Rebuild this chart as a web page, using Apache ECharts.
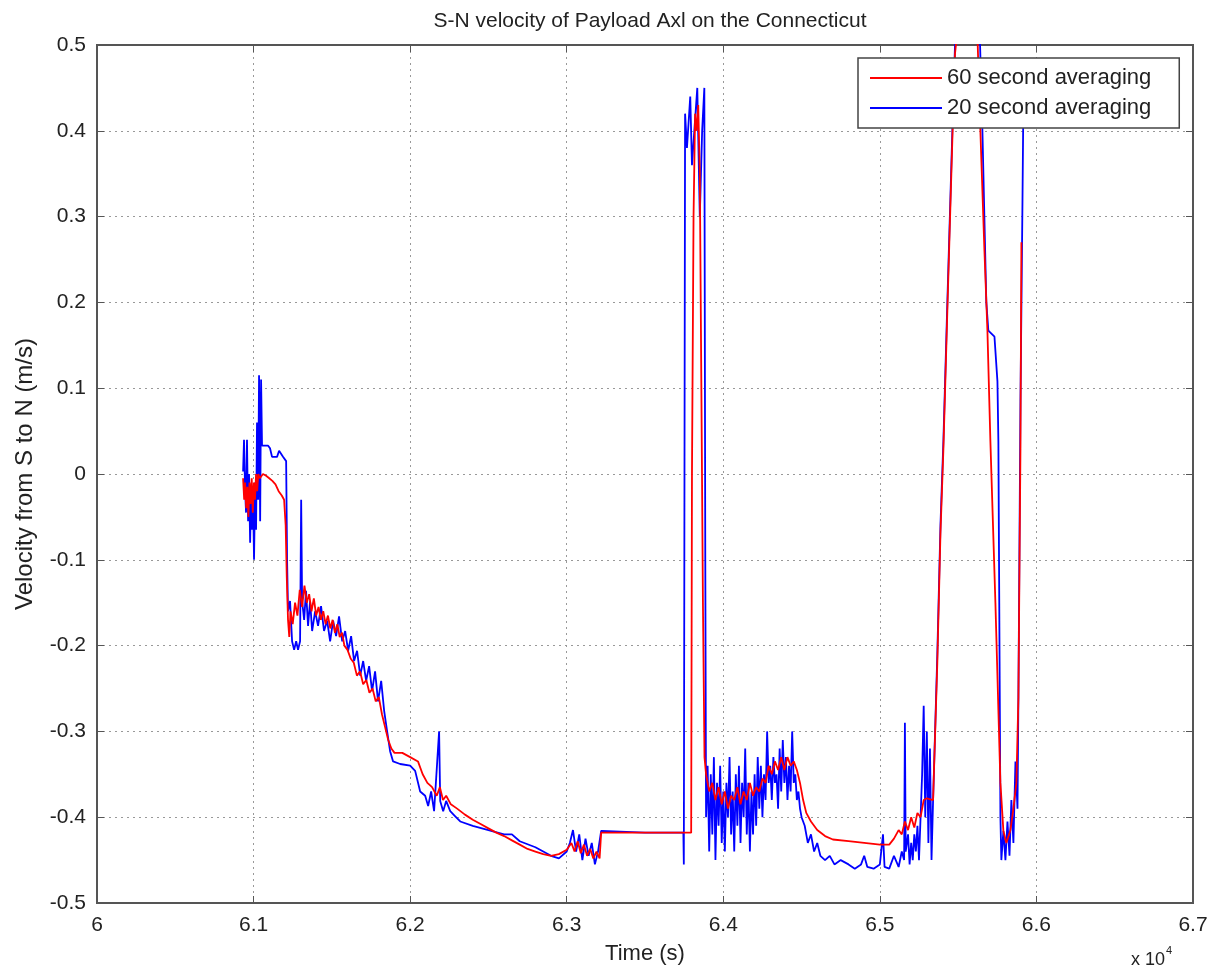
<!DOCTYPE html>
<html>
<head>
<meta charset="utf-8">
<title>S-N velocity</title>
<script src="https://cdn.jsdelivr.net/npm/echarts@6.0.0/dist/echarts.min.js"></script>
<style>
  html, body { margin: 0; padding: 0; background: #fff; }
  #chartmain { width: 1213px; height: 971px; }
</style>
</head>
<body>
<div id="chartmain"></div>
<script type="text/javascript">
// time in units of 10^4 s, velocity in m/s
var seriesNames = ['60 second averaging', '20 second averaging'];
var xTicks = [6, 6.1, 6.2, 6.3, 6.4, 6.5, 6.6, 6.7];
var yTicks = [-0.5, -0.4, -0.3, -0.2, -0.1, 0, 0.1, 0.2, 0.3, 0.4, 0.5];

// 60 second averaging (red)
var red60 = [
  [6.0933,-0.005],[6.0940,-0.03],[6.0946,-0.01],[6.0953,-0.04],[6.0960,-0.015],[6.0967,-0.05],
  [6.0974,-0.01],[6.0981,-0.035],[6.0988,-0.005],[6.0995,-0.045],[6.1002,-0.01],[6.1009,-0.03],
  [6.1016,0.0],[6.1023,-0.02],[6.1030,0.0],[6.1040,-0.005],[6.1060,0.0],[6.1080,-0.002],
  [6.1100,-0.005],[6.1120,-0.008],[6.1140,-0.012],[6.1160,-0.02],[6.1180,-0.025],[6.1195,-0.03],
  [6.1205,-0.06],[6.1212,-0.12],[6.1220,-0.17],[6.1228,-0.19],[6.1236,-0.16],[6.1250,-0.175],
  [6.1265,-0.15],[6.1280,-0.165],[6.1295,-0.135],[6.1310,-0.155],[6.1325,-0.13],[6.1340,-0.15],
  [6.1355,-0.14],[6.1370,-0.16],[6.1385,-0.145],[6.1400,-0.165],[6.1415,-0.155],[6.1430,-0.17],
  [6.1445,-0.16],[6.1460,-0.175],[6.1475,-0.165],[6.1490,-0.18],[6.1505,-0.17],[6.1520,-0.185],
  [6.1535,-0.175],[6.1550,-0.19],[6.1565,-0.185],[6.1580,-0.2],[6.1600,-0.205],[6.1620,-0.215],
  [6.1640,-0.22],[6.1660,-0.235],[6.1680,-0.23],[6.1700,-0.245],[6.1720,-0.24],[6.1740,-0.255],
  [6.1760,-0.25],[6.1780,-0.265],[6.1800,-0.26],[6.1820,-0.28],[6.1840,-0.295],[6.1860,-0.31],
  [6.1880,-0.32],[6.1900,-0.325],[6.1950,-0.325],[6.2000,-0.33],[6.2050,-0.335],[6.2080,-0.35],
  [6.2110,-0.36],[6.2140,-0.365],[6.2170,-0.375],[6.2190,-0.365],[6.2210,-0.38],[6.2230,-0.375],
  [6.2260,-0.385],[6.2300,-0.39],[6.2350,-0.397],[6.2400,-0.403],[6.2450,-0.408],[6.2500,-0.413],
  [6.2550,-0.418],[6.2600,-0.422],[6.2650,-0.427],[6.2700,-0.432],[6.2750,-0.437],[6.2800,-0.44],
  [6.2850,-0.443],[6.2900,-0.445],[6.2950,-0.443],[6.3000,-0.438],[6.3030,-0.43],[6.3050,-0.44],
  [6.3070,-0.428],[6.3090,-0.442],[6.3110,-0.432],[6.3130,-0.445],[6.3150,-0.437],[6.3170,-0.448],
  [6.3190,-0.44],[6.3210,-0.448],[6.3220,-0.418],[6.3500,-0.418],[6.3795,-0.418],[6.3800,0.0],
  [6.3810,0.3],[6.3820,0.42],[6.3830,0.40],[6.3840,0.43],[6.3850,0.35],[6.3860,0.1],
  [6.3870,-0.15],[6.3880,-0.33],[6.3890,-0.35],[6.3910,-0.37],[6.3930,-0.36],[6.3950,-0.38],
  [6.3970,-0.365],[6.3990,-0.385],[6.4010,-0.37],[6.4030,-0.39],[6.4050,-0.375],[6.4070,-0.38],
  [6.4090,-0.365],[6.4110,-0.385],[6.4130,-0.37],[6.4150,-0.38],[6.4170,-0.36],[6.4190,-0.375],
  [6.4210,-0.365],[6.4230,-0.37],[6.4250,-0.355],[6.4270,-0.36],[6.4290,-0.34],[6.4310,-0.35],
  [6.4330,-0.335],[6.4350,-0.345],[6.4370,-0.33],[6.4390,-0.345],[6.4410,-0.33],[6.4430,-0.34],
  [6.4450,-0.335],[6.4470,-0.345],[6.4490,-0.36],[6.4510,-0.38],[6.4530,-0.395],[6.4560,-0.405],
  [6.4600,-0.415],[6.4650,-0.422],[6.4700,-0.426],[6.4800,-0.428],[6.4900,-0.43],[6.5000,-0.432],
  [6.5060,-0.432],[6.5090,-0.425],[6.5120,-0.415],[6.5140,-0.42],[6.5160,-0.405],[6.5180,-0.415],
  [6.5200,-0.40],[6.5220,-0.412],[6.5240,-0.395],[6.5260,-0.40],[6.5280,-0.38],[6.5300,-0.378],
  [6.5340,-0.38],[6.5367,-0.22],[6.5387,-0.07],[6.5406,0.03],[6.5431,0.19],[6.5463,0.39],
  [6.5480,0.49],[6.5520,0.56],[6.5580,0.58],[6.5625,0.50],[6.5642,0.40],[6.5668,0.26],
  [6.5687,0.167],[6.5706,0.038],[6.5738,-0.15],[6.5770,-0.36],[6.5789,-0.416],[6.5808,-0.43],
  [6.5834,-0.415],[6.5853,-0.39],[6.5872,-0.36],[6.5885,-0.26],[6.5898,0.03],[6.5904,0.27]
];

// 20 second averaging (blue)
var blue20 = [
  [6.0933,0.003],[6.0939,0.04],[6.0946,-0.02],[6.0952,-0.045],[6.0958,0.04],[6.0965,-0.055],
  [6.0971,0.0],[6.0978,-0.08],[6.0984,-0.02],[6.0990,-0.065],[6.0997,-0.03],[6.1003,-0.10],
  [6.1010,-0.01],[6.1016,-0.065],[6.1022,0.06],[6.1029,-0.03],[6.1035,0.115],[6.1042,-0.055],
  [6.1048,0.11],[6.1054,0.033],[6.1093,0.033],[6.1105,0.03],[6.1118,0.02],[6.1150,0.02],
  [6.1163,0.027],[6.1188,0.02],[6.1208,0.015],[6.1214,-0.10],[6.1220,-0.16],[6.1233,-0.148],
  [6.1246,-0.195],[6.1259,-0.205],[6.1272,-0.195],[6.1284,-0.205],[6.1297,-0.195],[6.1304,-0.03],
  [6.1310,-0.148],[6.1323,-0.17],[6.1335,-0.136],[6.1348,-0.177],[6.1361,-0.148],[6.1374,-0.183],
  [6.1393,-0.16],[6.1412,-0.177],[6.1431,-0.154],[6.1450,-0.183],[6.1470,-0.171],[6.1489,-0.195],
  [6.1508,-0.171],[6.1527,-0.189],[6.1546,-0.166],[6.1566,-0.195],[6.1585,-0.183],[6.1604,-0.206],
  [6.1623,-0.189],[6.1642,-0.218],[6.1661,-0.206],[6.1681,-0.235],[6.1700,-0.218],[6.1719,-0.241],
  [6.1738,-0.224],[6.1757,-0.253],[6.1776,-0.230],[6.1795,-0.265],[6.1815,-0.241],[6.1834,-0.276],
  [6.1853,-0.30],[6.1872,-0.323],[6.1891,-0.335],[6.1936,-0.338],[6.2000,-0.34],[6.2032,-0.346],
  [6.2064,-0.37],[6.2096,-0.375],[6.2115,-0.387],[6.2134,-0.37],[6.2153,-0.393],[6.2173,-0.335],
  [6.2185,-0.30],[6.2192,-0.381],[6.2211,-0.393],[6.2230,-0.381],[6.2256,-0.393],[6.2288,-0.399],
  [6.2320,-0.405],[6.2400,-0.41],[6.2500,-0.415],[6.2600,-0.42],[6.2650,-0.42],[6.2700,-0.428],
  [6.2800,-0.435],[6.2900,-0.445],[6.2950,-0.448],[6.3000,-0.44],[6.3020,-0.43],[6.3040,-0.415],
  [6.3060,-0.44],[6.3080,-0.42],[6.3100,-0.45],[6.3120,-0.425],[6.3140,-0.445],[6.3160,-0.43],
  [6.3180,-0.455],[6.3200,-0.44],[6.3220,-0.416],[6.3500,-0.418],[6.3745,-0.418],[6.3748,-0.455],
  [6.3756,0.42],[6.3768,0.38],[6.3789,0.44],[6.3800,0.36],[6.3815,0.40],[6.3834,0.45],
  [6.3850,0.30],[6.3865,0.40],[6.3879,0.45],[6.3885,-0.1],[6.3890,-0.40],[6.3900,-0.34],
  [6.3910,-0.44],[6.3920,-0.35],[6.3930,-0.42],[6.3940,-0.33],[6.3950,-0.45],[6.3960,-0.36],
  [6.3970,-0.41],[6.3980,-0.34],[6.3990,-0.43],[6.4000,-0.37],[6.4010,-0.44],[6.4020,-0.36],
  [6.4030,-0.40],[6.4040,-0.33],[6.4050,-0.42],[6.4060,-0.37],[6.4070,-0.44],[6.4080,-0.35],
  [6.4090,-0.41],[6.4100,-0.34],[6.4110,-0.43],[6.4120,-0.36],[6.4130,-0.40],[6.4140,-0.32],
  [6.4150,-0.42],[6.4160,-0.36],[6.4170,-0.44],[6.4180,-0.37],[6.4190,-0.42],[6.4200,-0.35],
  [6.4210,-0.41],[6.4220,-0.33],[6.4230,-0.39],[6.4240,-0.34],[6.4250,-0.40],[6.4260,-0.35],
  [6.4270,-0.38],[6.4280,-0.30],[6.4290,-0.36],[6.4300,-0.34],[6.4310,-0.38],[6.4320,-0.33],
  [6.4330,-0.36],[6.4340,-0.35],[6.4350,-0.39],[6.4360,-0.32],[6.4370,-0.37],[6.4380,-0.31],
  [6.4390,-0.36],[6.4400,-0.33],[6.4410,-0.38],[6.4420,-0.34],[6.4430,-0.37],[6.4440,-0.30],
  [6.4450,-0.36],[6.4460,-0.35],[6.4470,-0.38],[6.4480,-0.37],[6.4490,-0.39],[6.4500,-0.40],
  [6.4520,-0.41],[6.4540,-0.43],[6.4560,-0.42],[6.4580,-0.44],[6.4600,-0.43],[6.4620,-0.445],
  [6.4650,-0.45],[6.4680,-0.445],[6.4710,-0.455],[6.4750,-0.45],[6.4800,-0.455],[6.4840,-0.46],
  [6.4880,-0.455],[6.4900,-0.445],[6.4920,-0.458],[6.4960,-0.46],[6.5000,-0.455],[6.5020,-0.42],
  [6.5030,-0.458],[6.5060,-0.46],[6.5090,-0.445],[6.5120,-0.458],[6.5140,-0.44],[6.5155,-0.45],
  [6.5160,-0.29],[6.5165,-0.44],[6.5180,-0.42],[6.5190,-0.455],[6.5200,-0.43],[6.5210,-0.45],
  [6.5220,-0.42],[6.5230,-0.44],[6.5240,-0.41],[6.5250,-0.45],[6.5260,-0.40],[6.5270,-0.35],
  [6.5280,-0.27],[6.5290,-0.40],[6.5300,-0.30],[6.5310,-0.43],[6.5320,-0.32],[6.5330,-0.45],
  [6.5340,-0.38],[6.5367,-0.21],[6.5387,-0.06],[6.5406,0.04],[6.5431,0.20],[6.5463,0.40],
  [6.5480,0.50],[6.5520,0.56],[6.5600,0.58],[6.5640,0.50],[6.5655,0.40],[6.5680,0.20],
  [6.5693,0.167],[6.5732,0.16],[6.5751,0.108],[6.5757,0.038],[6.5770,-0.40],[6.5776,-0.45],
  [6.5789,-0.416],[6.5802,-0.45],[6.5815,-0.405],[6.5828,-0.445],[6.5840,-0.38],[6.5853,-0.43],
  [6.5866,-0.335],[6.5879,-0.39],[6.5885,-0.26],[6.5898,0.085],[6.5911,0.32],[6.5917,0.44]
];

var myChart = echarts.init(document.getElementById('chartmain'));

var axisCol = '#555';
var txtCol = '#222';
var font = 'Liberation Sans, Arial, sans-serif';

function fmt(v) { return String(Number(v.toFixed(1))); }

myChart.setOption({
    animation: false,
    backgroundColor: '#fff',
    title: {
        text: 'S-N velocity of Payload Axl on the Connecticut',
        left: 645,
        textAlign: 'center',
        top: 6,
        textStyle: { fontSize: 21, fontWeight: 'normal', color: txtCol, fontFamily: font }
    },
    legend: {
        data: seriesNames,
        orient: 'vertical',
        left: 858,
        top: 58,
        padding: [9, 28, 9, 12],
        itemGap: 8,
        itemWidth: 72,
        itemHeight: 2,
        icon: 'rect',
        backgroundColor: '#fff',
        borderColor: '#444',
        borderWidth: 1.5,
        borderRadius: 0,
        textStyle: { fontSize: 22, color: txtCol, fontFamily: font }
    },
    grid: {
        left: 97, right: 20, top: 45, bottom: 68,
        show: true, borderColor: axisCol, borderWidth: 2, backgroundColor: '#fff'
    },
    xAxis: [{
        type: 'value',
        min: xTicks[0],
        max: xTicks[xTicks.length - 1],
        interval: 0.1,
        name: 'Time (s)',
        nameLocation: 'middle',
        nameGap: 40,
        nameTextStyle: { fontSize: 22, color: txtCol, fontFamily: font },
        axisLine: { show: true, onZero: false, lineStyle: { color: axisCol, width: 2 } },
        axisTick: { inside: true, length: 7, lineStyle: { color: axisCol } },
        axisLabel: { formatter: fmt, fontSize: 21, color: txtCol, margin: 12, fontFamily: font },
        splitLine: { show: true, lineStyle: { type: [2, 4], color: '#999', width: 1 } }
    }, {
        type: 'value',
        position: 'top',
        min: xTicks[0],
        max: xTicks[xTicks.length - 1],
        interval: 0.1,
        axisLine: { show: true, onZero: false, lineStyle: { color: axisCol, width: 2 } },
        axisTick: { inside: true, length: 7, lineStyle: { color: axisCol } },
        axisLabel: { show: false },
        splitLine: { show: false }
    }],
    yAxis: [{
        type: 'value',
        min: yTicks[0],
        max: yTicks[yTicks.length - 1],
        interval: 0.1,
        name: 'Velocity from S to N (m/s)',
        nameLocation: 'middle',
        nameGap: 60,
        nameRotate: 90,
        nameTextStyle: { fontSize: 24, color: txtCol, fontFamily: font },
        axisLine: { show: true, onZero: false, lineStyle: { color: axisCol, width: 2 } },
        axisTick: { inside: true, length: 7, lineStyle: { color: axisCol } },
        axisLabel: { formatter: fmt, fontSize: 21, color: txtCol, margin: 11, fontFamily: font },
        splitLine: { show: true, lineStyle: { type: [2, 4], color: '#999', width: 1 } }
    }, {
        type: 'value',
        position: 'right',
        min: yTicks[0],
        max: yTicks[yTicks.length - 1],
        interval: 0.1,
        axisLine: { show: true, onZero: false, lineStyle: { color: axisCol, width: 2 } },
        axisTick: { inside: true, length: 7, lineStyle: { color: axisCol } },
        axisLabel: { show: false },
        splitLine: { show: false }
    }],
    graphic: [
        { type: 'text', left: 1131, top: 951, style: { text: 'x 10', fontSize: 18, fill: txtCol, fontFamily: font } },
        { type: 'text', left: 1166, top: 945, style: { text: '4', fontSize: 11, fill: txtCol, fontFamily: font } }
    ],
    series: [
        {
            name: seriesNames[1],
            type: 'line',
            data: blue20,
            showSymbol: false,
            lineStyle: { color: '#0000ff', width: 1.8 },
            itemStyle: { color: '#0000ff' },
            z: 2
        },
        {
            name: seriesNames[0],
            type: 'line',
            data: red60,
            showSymbol: false,
            lineStyle: { color: '#ff0000', width: 1.8 },
            itemStyle: { color: '#ff0000' },
            z: 3
        }
    ]
});
</script>
</body>
</html>
